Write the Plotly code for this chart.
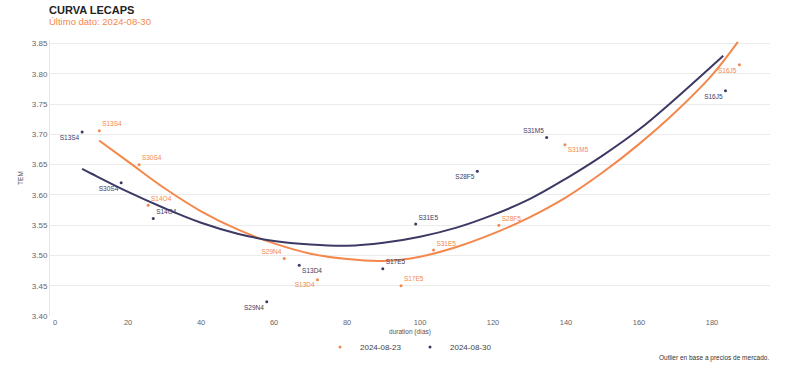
import plotly.graph_objects as go

# --- data ---
tickers_0823 = ["S13S4", "S30S4", "S14O4", "S29N4", "S13D4", "S17E5", "S31E5", "S28F5", "S31M5", "S16J5"]
dur_0823 = [12.1, 23.0, 25.5, 62.8, 71.9, 94.8, 103.7, 121.6, 139.7, 187.5]
tem_0823 = [3.706, 3.650, 3.583, 3.495, 3.460, 3.450, 3.509, 3.550, 3.683, 3.815]
pos_0823 = ["top right", "top right", "top right", "top left", "bottom left",
            "top right", "top right", "top right", "bottom right", "bottom left"]

tickers_0830 = ["S13S4", "S30S4", "S14O4", "S29N4", "S13D4", "S17E5", "S31E5", "S28F5", "S31M5", "S16J5"]
dur_0830 = [7.4, 18.1, 26.9, 58.0, 66.9, 89.8, 98.8, 115.7, 134.7, 183.7]
tem_0830 = [3.704, 3.620, 3.561, 3.4235, 3.484, 3.478, 3.552, 3.639, 3.695, 3.772]
pos_0830 = ["bottom left", "bottom left", "top right", "bottom left", "bottom right",
            "top right", "top right", "bottom left", "top left", "bottom left"]

# fitted curves as drawn in the reference
curve_x_0823 = [12.05, 20, 30, 40, 50, 60, 70, 80, 90, 100, 110, 120, 130, 140, 150, 160, 170, 180, 187.1]
curve_y_0823 = [3.690, 3.655, 3.611, 3.573, 3.543, 3.520, 3.503, 3.494, 3.491, 3.498, 3.514, 3.536,
                3.563, 3.596, 3.637, 3.684, 3.737, 3.798, 3.853]
curve_x_0830 = [7.4, 10, 20, 30, 40, 50, 60, 70, 80, 90, 100, 110, 120, 130, 140, 150, 160, 170, 183.1]
curve_y_0830 = [3.643, 3.635, 3.605, 3.578, 3.554, 3.536, 3.524, 3.518, 3.516, 3.521, 3.531, 3.546,
                3.567, 3.593, 3.627, 3.665, 3.708, 3.759, 3.830]

y_ticks = [3.40, 3.45, 3.50, 3.55, 3.60, 3.65, 3.70, 3.75, 3.80, 3.85]
x_ticks = [0, 20, 40, 60, 80, 100, 120, 140, 160, 180]

ORANGE = "#f4874b"
NAVY = "#3c3a64"
FONT = "Liberation Sans"

fig = go.Figure()

fig.add_trace(go.Scatter(x=curve_x_0823, y=curve_y_0823, mode="lines",
                         line=dict(color=ORANGE, width=2, shape="spline", smoothing=1.0),
                         showlegend=False, hoverinfo="skip"))
fig.add_trace(go.Scatter(x=curve_x_0830, y=curve_y_0830, mode="lines",
                         line=dict(color=NAVY, width=2, shape="spline", smoothing=1.0),
                         showlegend=False, hoverinfo="skip"))

fig.add_trace(go.Scatter(x=dur_0823, y=tem_0823, mode="markers+text", name="2024-08-23",
                         text=tickers_0823, textposition=pos_0823,
                         textfont=dict(color=ORANGE, size=6.5, family=FONT),
                         marker=dict(color=ORANGE, size=3)))
fig.add_trace(go.Scatter(x=dur_0830, y=tem_0830, mode="markers+text", name="2024-08-30",
                         text=tickers_0830, textposition=pos_0830,
                         textfont=dict(color=NAVY, size=6.5, family=FONT),
                         marker=dict(color=NAVY, size=3)))

fig.update_layout(
    width=800, height=384,
    margin=dict(l=50, r=30, t=40, b=68, autoexpand=False),
    paper_bgcolor="white", plot_bgcolor="white",
    font=dict(family=FONT, color="#555555", size=7),
    showlegend=True,
    legend=dict(orientation="h", x=0.5, xanchor="center", y=-0.112, yanchor="middle",
                font=dict(size=8, color="#444444"), itemwidth=30,
                entrywidth=45, entrywidthmode="pixels",
                bgcolor="rgba(0,0,0,0)"),
    xaxis=dict(range=[-1.4, 195.9], tickvals=x_ticks, showgrid=False, zeroline=False,
               showline=False, ticks="", automargin=False,
               tickfont=dict(size=7.5, color="#666666"),
               title=dict(text="duration (días)", font=dict(size=6.5, color="#555555"), standoff=3)),
    yaxis=dict(range=[3.40, 3.856], tickvals=y_ticks, tickformat=".2f", ticksuffix="%",
               showgrid=True, gridcolor="#ebebeb", gridwidth=1, zeroline=False,
               showline=True, linecolor="#e6e6e6", linewidth=1, ticks="", automargin=False,
               tickfont=dict(size=8, color="#666666"),
               title=dict(text="TEM", font=dict(size=6.5, color="#555555"), standoff=7)),
    annotations=[
        dict(text="<b>CURVA LECAPS</b>", xref="paper", yref="paper", x=-0.004, y=1.109,
             xanchor="left", yanchor="middle", showarrow=False,
             font=dict(size=11, color="#222222", family=FONT)),
        dict(text="Último dato: 2024-08-30", xref="paper", yref="paper", x=-0.004, y=1.066,
             xanchor="left", yanchor="middle", showarrow=False,
             font=dict(size=9.5, color=ORANGE, family=FONT)),
        dict(text="Outlier en base a precios de mercado.", xref="paper", yref="paper",
             x=1.001, y=-0.152, xanchor="right", yanchor="middle", showarrow=False,
             font=dict(size=6.5, color="#333333", family=FONT)),
    ],
)

fig.write_html("out.html", config={"displayModeBar": False},
               post_script="document.body.style.margin='0';")
